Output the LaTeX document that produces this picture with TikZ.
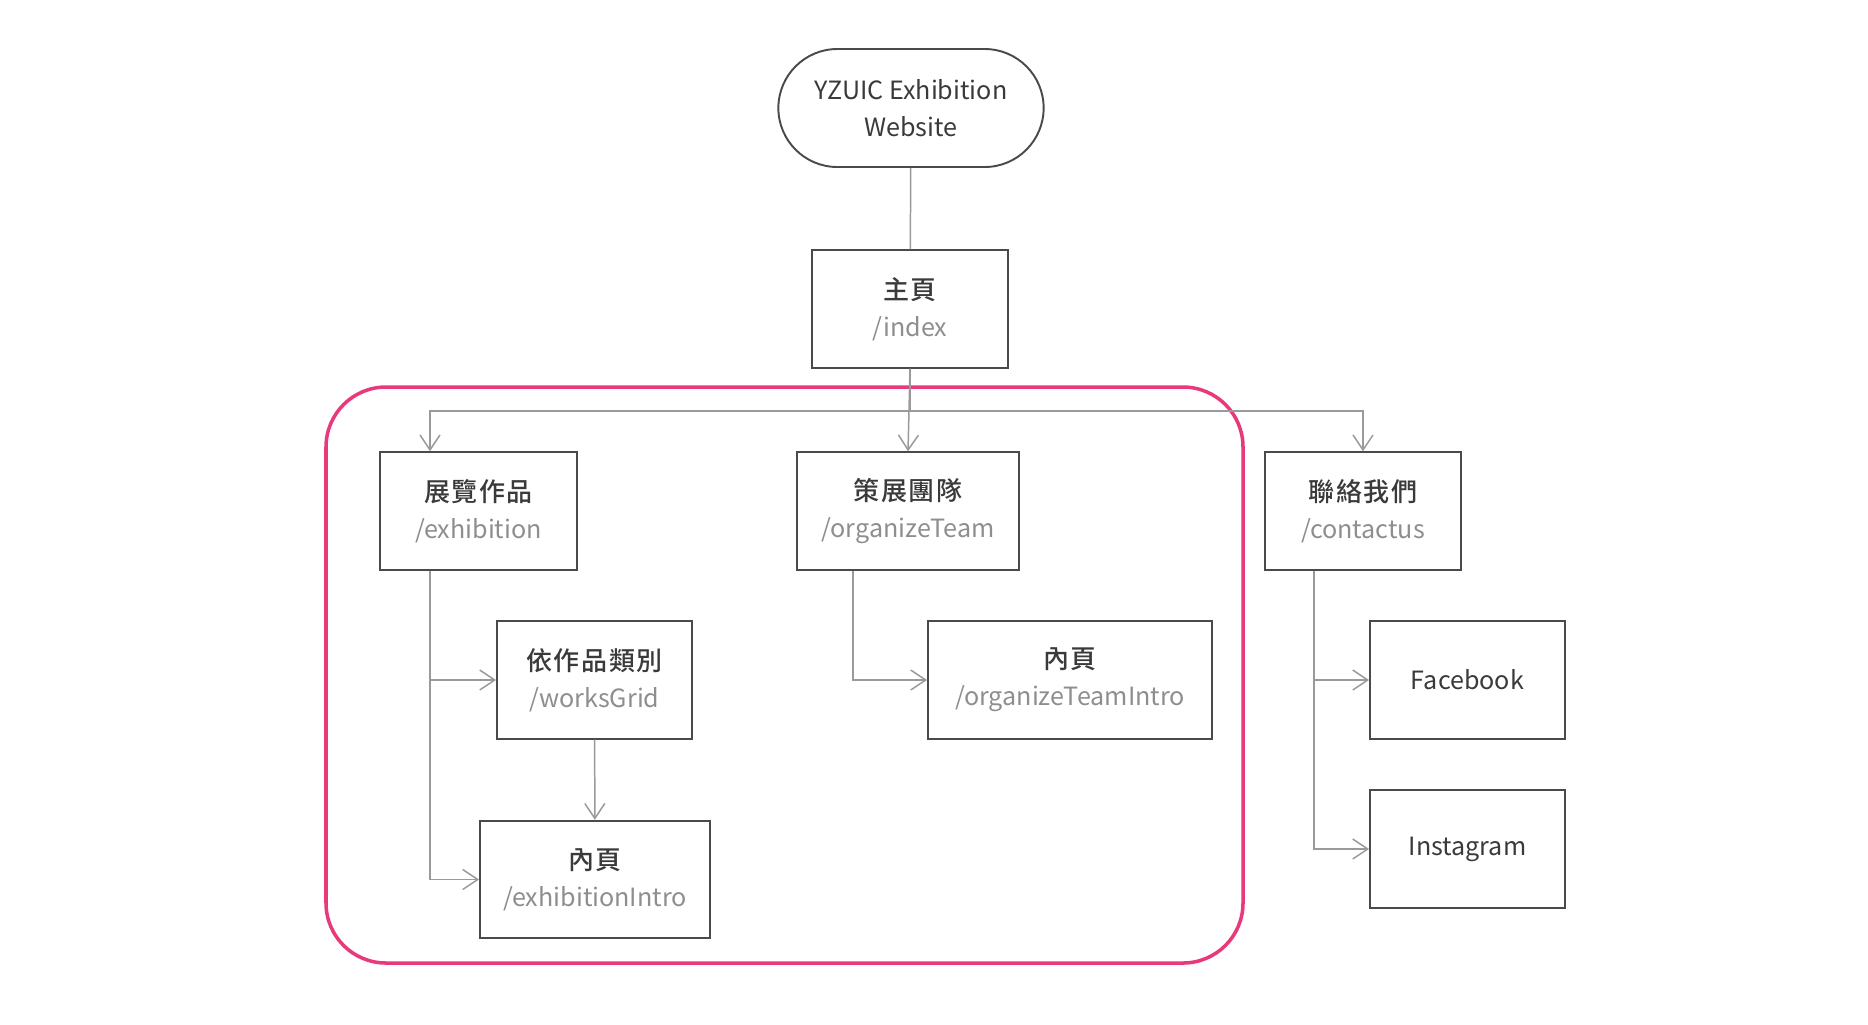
\documentclass[tikz,border=0pt]{standalone}
\usepackage{fontspec}
\setmainfont{Noto Sans CJK TC}
\newfontfamily\titlefont[UprightFont={* Medium}, LetterSpace=6]{Noto Sans CJK TC}
\usepackage{xcolor}
\usepackage{tikz}
\usetikzlibrary{shapes.geometric,shapes.misc,arrows.meta,positioning}
\definecolor{boxline}{HTML}{4A4A4A}
\definecolor{textdark}{HTML}{3A3A3A}
\definecolor{pathgray}{HTML}{8E8E8E}
\definecolor{linkgray}{HTML}{9A9A9A}
\definecolor{framered}{HTML}{E8397B}
\tikzstyle{page} = [rectangle, draw=boxline, line width=1.1pt, align=center,
                    text=textdark, minimum height=2.35cm, minimum width=3.92cm,
                    font=\fontsize{14.3}{21}\selectfont]
\tikzstyle{site} = [rounded rectangle, draw=boxline, line width=1.1pt, align=center,
                    text=textdark, minimum height=2.36cm, minimum width=5.54cm,
                    font=\fontsize{14.3}{21}\selectfont]
\tikzstyle{arrow} = [-{Straight Barb[length=3mm,width=4mm]}, draw=linkgray, line width=0.85pt]
\tikzstyle{link} = [draw=linkgray, line width=0.85pt]
\newcommand{\route}[1]{{\color{pathgray}#1}}
\newcommand{\pagename}[1]{{\titlefont\fontsize{14.8}{21}\selectfont #1}}

\begin{document}
\begin{tikzpicture}
    \useasboundingbox (0,0) rectangle (37.36,-20.48);

    % section frame
    \draw [framered, line width=2pt, rounded corners=1.2cm] (6.52,-7.74) rectangle (24.86,-19.26);

    \node [site] (web) at (18.22,-2.16) {YZUIC Exhibition\\Website};
    \node [page] (index) at (18.2,-6.18) {\pagename{主頁}\\\route{/index}};
    \node [page, minimum width=3.94cm] (exhibition) at (9.57,-10.22) {\pagename{展覽作品}\\\route{/exhibition}};
    \node [page, minimum width=4.44cm] (team) at (18.16,-10.22) {\pagename{策展團隊}\\\route{/organizeTeam}};
    \node [page] (contact) at (27.26,-10.22) {\pagename{聯絡我們}\\\route{/contactus}};
    \node [page, minimum width=3.9cm] (grid) at (11.89,-13.6) {\pagename{依作品類別}\\\route{/worksGrid}};
    \node [page, minimum width=4.6cm] (exintro) at (11.9,-17.59) {\pagename{內頁}\\\route{/exhibitionIntro}};
    \node [page, minimum width=5.68cm] (teamintro) at (21.4,-13.6) {\pagename{內頁}\\\route{/organizeTeamIntro}};
    \node [page, minimum width=3.9cm] (fb) at (29.35,-13.6) {Facebook};
    \node [page, minimum width=3.9cm] (ig) at (29.35,-16.98) {Instagram};

    \coordinate (bus) at (18.2,-8.22);

    \draw [link] (web) -- (index);
    \draw [arrow] (index.south) -- (index.south |- bus) -| ([xshift=-0.97cm]exhibition.north);
    \draw [arrow] (index.south) -- (team.north);
    \draw [arrow] (index.south) -- (index.south |- bus) -| (contact.north);
    \draw [arrow] ([xshift=-0.97cm]exhibition.south) |- (grid.west);
    \draw [arrow] ([xshift=-0.97cm]exhibition.south) |- (exintro.west);
    \draw [arrow] (grid) -- (exintro);
    \draw [arrow] ([xshift=-1.1cm]team.south) |- (teamintro.west);
    \draw [arrow] ([xshift=-0.98cm]contact.south) |- (fb.west);
    \draw [arrow] ([xshift=-0.98cm]contact.south) |- (ig.west);
\end{tikzpicture}
\end{document}
